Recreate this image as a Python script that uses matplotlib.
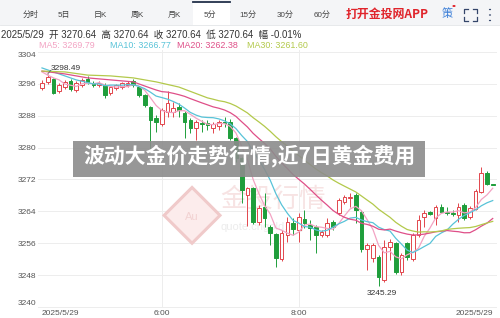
import numpy as np
import pandas as pd
import matplotlib
matplotlib.use("Agg")
import matplotlib.pyplot as plt
from matplotlib.patches import Rectangle, Polygon, Circle

plt.rcParams['font.family'] = ['Liberation Sans', 'Noto Sans CJK SC', 'DejaVu Sans']

# 5-minute candles on 2025/5/29 (first bar 4:15)
opens = [3295.0, 3296.5, 3297.2, 3294.2, 3295.2, 3296.7, 3294.5, 3295.7, 3297.2, 3296.2,
         3295.7, 3295.7, 3293.7, 3295.0, 3295.2, 3295.7, 3296.7, 3295.2, 3293.2, 3290.2,
         3287.4, 3285.9, 3288.9, 3288.9, 3290.2, 3288.7, 3286.9, 3284.9, 3286.2, 3286.2,
         3284.9, 3285.4, 3286.4, 3286.4, 3282.4, 3277.4, 3268.1, 3269.8, 3261.3, 3265.1,
         3260.0, 3258.3, 3252.0, 3258.0, 3261.0, 3259.3, 3262.0, 3260.5, 3260.0, 3258.0,
         3258.0, 3261.3, 3263.5, 3266.3, 3267.4, 3268.1, 3263.8, 3254.5, 3252.2, 3252.5,
         3246.7, 3255.0, 3256.0, 3248.7, 3256.0, 3252.0, 3258.0, 3262.5, 3263.8, 3262.3,
         3265.1, 3263.8, 3263.7, 3263.0, 3265.6, 3262.5, 3264.6, 3268.8, 3273.6, 3270.64]
highs = [3297.0, 3298.49, 3297.5, 3296.2, 3297.0, 3297.2, 3296.7, 3297.5, 3298.0, 3296.7,
         3296.7, 3296.2, 3295.5, 3296.0, 3296.5, 3296.7, 3297.2, 3295.5, 3293.5, 3290.5,
         3288.2, 3290.0, 3294.2, 3291.4, 3291.2, 3289.2, 3287.4, 3286.9, 3286.9, 3286.9,
         3286.4, 3286.9, 3287.7, 3287.2, 3282.6, 3277.6, 3270.1, 3270.1, 3265.6, 3268.6,
         3260.5, 3258.5, 3259.3, 3262.5, 3262.3, 3263.5, 3264.3, 3261.8, 3260.5, 3259.3,
         3262.3, 3261.8, 3267.3, 3268.1, 3268.6, 3268.6, 3264.3, 3256.0, 3256.0, 3253.0,
         3256.8, 3257.0, 3256.3, 3253.5, 3256.3, 3258.5, 3263.0, 3264.3, 3264.0, 3265.6,
         3265.8, 3265.1, 3264.3, 3266.1, 3266.0, 3265.3, 3269.6, 3275.1, 3274.1, 3270.64]
lows = [3294.5, 3296.0, 3293.4, 3293.7, 3294.7, 3294.2, 3294.0, 3295.2, 3296.0, 3295.2,
        3295.2, 3292.4, 3293.2, 3294.5, 3294.7, 3295.2, 3295.2, 3292.7, 3290.2, 3279.4,
        3283.9, 3285.4, 3287.7, 3287.7, 3287.7, 3282.4, 3283.6, 3281.9, 3283.9, 3284.4,
        3283.6, 3284.4, 3285.2, 3282.0, 3276.5, 3266.1, 3260.3, 3260.8, 3260.5, 3260.0,
        3255.5, 3250.0, 3251.5, 3256.3, 3258.0, 3256.3, 3259.8, 3256.8, 3253.5, 3257.5,
        3257.5, 3259.3, 3263.0, 3265.8, 3265.1, 3261.0, 3253.7, 3249.2, 3251.2, 3245.29,
        3246.2, 3251.7, 3248.2, 3248.0, 3251.7, 3251.5, 3257.5, 3260.0, 3263.0, 3260.5,
        3263.5, 3263.0, 3262.8, 3261.3, 3261.8, 3262.0, 3264.3, 3268.6, 3270.6, 3270.64]
closes = [3296.2, 3297.7, 3293.7, 3295.7, 3296.5, 3294.7, 3296.2, 3297.0, 3296.5, 3295.7,
          3296.2, 3293.2, 3295.2, 3295.7, 3296.2, 3296.2, 3295.7, 3293.2, 3290.7, 3286.9,
          3286.4, 3289.4, 3291.2, 3289.9, 3289.4, 3286.4, 3284.9, 3286.4, 3285.9, 3285.7,
          3285.9, 3286.4, 3286.2, 3282.4, 3277.4, 3269.3, 3269.8, 3261.3, 3264.8, 3262.3,
          3258.5, 3252.2, 3258.5, 3261.3, 3259.5, 3262.5, 3261.0, 3259.8, 3258.0, 3258.8,
          3261.0, 3260.0, 3266.8, 3267.6, 3267.6, 3264.3, 3254.5, 3255.5, 3255.5, 3247.5,
          3255.0, 3256.3, 3248.7, 3253.0, 3252.5, 3258.0, 3261.8, 3263.5, 3263.3, 3265.1,
          3263.8, 3263.5, 3263.4, 3265.1, 3262.3, 3264.8, 3269.1, 3273.6, 3270.9, 3270.64]

# moving averages: values at the left edge (read) before the window fills
ma_windows = [5, 10, 20, 30]
ma_last = [3269.79, 3266.77, 3262.38, 3261.60]
ma_head_idx = {5: [0, 1, 2, 3], 10: [0, 3, 6], 20: [0, 4, 8, 12, 16],
               30: [0, 4, 8, 12, 16, 20, 24]}
ma_head_val = {5: [3299.0, 3298.2, 3297.5, 3297.0],
               10: [3300.0, 3298.5, 3297.0],
               20: [3299.2, 3298.5, 3297.5, 3297.0, 3296.5],
               30: [3299.2, 3299.0, 3298.2, 3298.0, 3297.5, 3296.5, 3295.2]}
ma_colors = {5: '#f3a3c3', 10: '#58c3d8', 20: '#df4f88', 30: '#b3c94b'}

y_ticks = [3240, 3248, 3256, 3264, 3272, 3280, 3288, 3296, 3304]
x_tick_pos = [0, 21, 45, 79]
x_tick_lab = ['2025/5/29', '6:00', '8:00', '2025/5/29']

tabs = ['分时', '5日', '日K', '周K', '月K', '5分', '15分', '30分', '60分']
tab_x = [31, 64, 100, 137, 174, 210, 248, 285, 322]

W, H = 500, 318
def fx(px):
    return px / W
def fy(py):
    return 1 - py / H

fig = plt.figure(figsize=(5, 3.18), dpi=100)
fig.patch.set_facecolor('white')

# top tab bar
fig.patches.append(Rectangle((0, fy(25)), 1, 25 / H, transform=fig.transFigure,
                             facecolor='#f4f5f7', edgecolor='none', zorder=0))
fig.patches.append(Rectangle((fx(193), fy(25)), 37 / W, 24 / H, transform=fig.transFigure,
                             facecolor='white', edgecolor='none', zorder=1))
fig.lines.append(plt.Line2D([fx(193), fx(230)], [fy(1.5), fy(1.5)], transform=fig.transFigure,
                            color='#22304a', lw=1.3))
fig.lines.append(plt.Line2D([0, 1], [fy(25), fy(25)], transform=fig.transFigure,
                            color='#e3e5e8', lw=0.6))
for t, px in zip(tabs, tab_x):
    fig.text(fx(px), fy(15), t, ha='center', va='center', fontsize=5.8, color='#444444')
fig.text(fx(387), fy(14), '打开金投网APP', ha='center', va='center', fontsize=8.6,
         color='#e0242b', fontweight='bold', family=['Noto Sans CJK SC'])
fig.text(fx(447), fy(14), '策', ha='center', va='center', fontsize=8, color='#3c7fd8',
         family=['Noto Sans CJK SC'])
fig.patches.append(Circle((fx(454), fy(6)), 1.6 / W, transform=fig.transFigure,
                          facecolor='#e0242b', edgecolor='none'))
for cx, cy, dx, dy in [(464, 9, 1, 1), (477, 9, -1, 1), (464, 21, 1, -1), (477, 21, -1, -1)]:
    fig.lines.append(plt.Line2D([fx(cx + 4 * dx), fx(cx), fx(cx)],
                                [fy(cy), fy(cy), fy(cy + 4 * dy)],
                                transform=fig.transFigure, color='#34456a', lw=0.9))
for dy in [9.5, 15, 20.5]:
    fig.patches.append(Circle((fx(490), fy(dy)), 1.1 / W, transform=fig.transFigure,
                              facecolor='#34456a', edgecolor='none'))

# info rows
fig.text(fx(1), fy(35), '2025/5/29  开 3270.64  高 3270.64  收 3270.64  低 3270.64  幅 -0.01%',
         ha='left', va='center', fontsize=6.9, color='#333333')
ma_lab_x = [39, 110, 177, 247]
for w, val, px in zip(ma_windows, ma_last, ma_lab_x):
    fig.text(fx(px), fy(45.5), f'MA{w}: {val:.2f}', ha='left', va='center',
             fontsize=6.4, color=ma_colors[w])

# main chart
ax = fig.add_axes([fx(38), fy(308), (497 - 38) / W, (308 - 50) / H])
ax.set_xlim(-0.7, 79.75)
ax.set_ylim(3239.75, 3304.5)
for s in ax.spines.values():
    s.set_visible(False)
ax.set_yticks(y_ticks)
ax.set_yticklabels([str(v) for v in y_ticks])
ax.set_xticks(x_tick_pos)
ax.set_xticklabels(x_tick_lab)
ax.tick_params(length=0, labelsize=6, labelcolor='#555555')
ax.tick_params(axis='y', pad=1.5)
ax.tick_params(axis='x', pad=1.5)
ylabs = ax.get_yticklabels()
ylabs[0].set_va('bottom')
ylabs[-1].set_va('top')
xlabs = ax.get_xticklabels()
xlabs[0].set_ha('left')
xlabs[-1].set_ha('right')
for v in y_ticks:
    ax.axhline(v, color='#ededed', lw=0.7, zorder=0)
for p in x_tick_pos[1:3]:
    ax.axvline(p, color='#ededed', lw=0.7, zorder=0)

# watermark
wm = '#f0caca'
ax.add_patch(Polygon([[26.3, 3270.0], [31.2, 3263.0], [26.3, 3256.0], [21.4, 3263.0]],
                     closed=True, facecolor='#fcecec', edgecolor=wm, lw=2.2, zorder=0.5))
ax.text(26.3, 3262.6, 'Au', ha='center', va='center', fontsize=8, color='#f2d2d2', zorder=0.6)
ax.text(31.3, 3267.0, '金投行情', ha='left', va='center', fontsize=19, color='#f7e3e3',
        family=['Noto Sans CJK SC'], zorder=0.6)
ax.text(31.3, 3260.0, 'quote.cngold.org', ha='left', va='center', fontsize=8,
        color='#ececec', zorder=0.6)

# candles
x = np.arange(len(closes))
o = np.array(opens)
c = np.array(closes)
h = np.array(highs)
l = np.array(lows)
red, green = '#e2464c', '#1f9e3b'
up = c > o
cols = np.where(up, red, green)
ax.vlines(x, l, h, colors=cols, lw=0.7, zorder=2)
body = np.maximum(np.abs(c - o), 0.18)
ax.bar(x, body, bottom=np.minimum(o, c), width=0.64,
       color=np.where(up, 'white', green), edgecolor=cols, linewidth=0.7, zorder=3)

# moving averages
cs = pd.Series(closes)
for w in ma_windows:
    roll = cs.rolling(w).mean()
    xs = list(ma_head_idx[w]) + list(x[w - 1:])
    ys = list(ma_head_val[w]) + list(roll.values[w - 1:])
    ax.plot(xs, ys, color=ma_colors[w], lw=0.9, zorder=4)

# max / min marks
imax = int(np.argmax(h))
imin = int(np.argmin(l))
ax.plot([imax, imax + 0.55], [h[imax], h[imax] + 0.9], color='#555555', lw=0.5, zorder=5)
ax.text(imax + 0.5, h[imax] + 0.6, f'{h[imax]:.2f}', ha='left', va='bottom', fontsize=6,
        color='#333333', zorder=5)
ax.text(imin + 0.6, l[imin] - 0.9, f'{l[imin]:.2f}', ha='center', va='top', fontsize=6,
        color='#333333', zorder=5)

# title banner
fig.patches.append(Rectangle((fx(73), fy(177)), (425 - 73) / W, 36 / H,
                             transform=fig.transFigure, facecolor='#8c8c8c',
                             edgecolor='none', alpha=0.9, zorder=10))
fig.text(fx(250), fy(156), '波动大金价走势行情,近7日黄金费用', ha='center', va='center',
         fontsize=15, color='white', fontweight='bold', family=['Noto Sans CJK SC'], zorder=11)

fig.savefig('out.png', dpi=100)
